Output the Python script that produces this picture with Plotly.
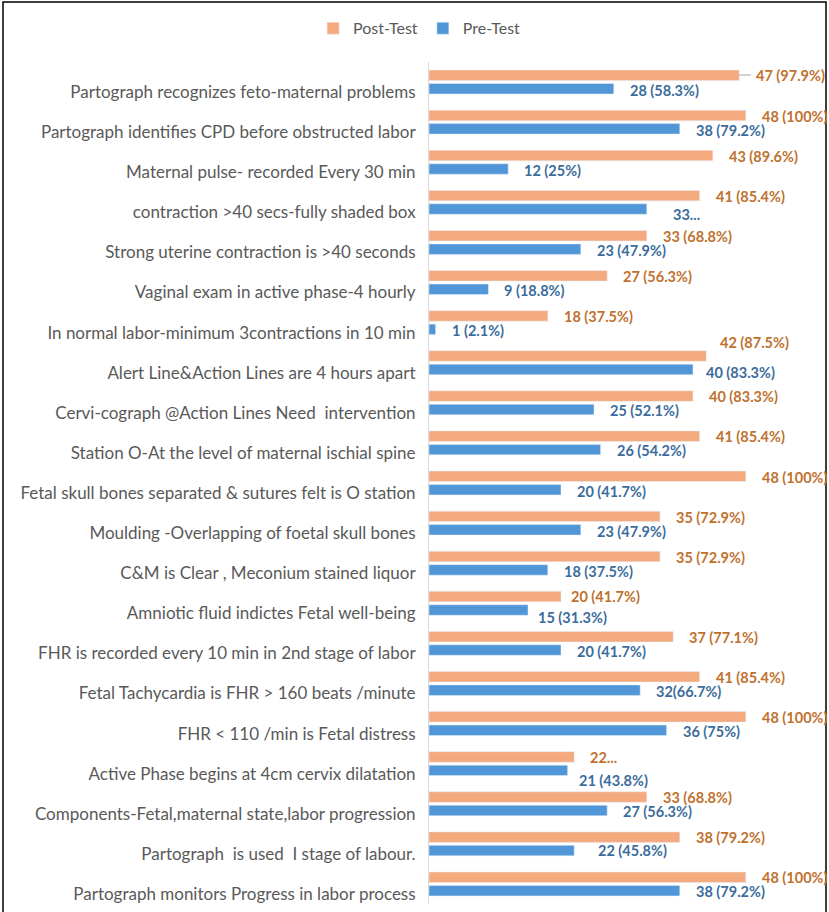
import plotly.graph_objects as go

categories = [
    "Partograph recognizes feto-maternal problems",
    "Partograph identifies CPD before obstructed labor",
    "Maternal pulse- recorded Every 30 min",
    "contraction >40 secs-fully shaded box",
    "Strong uterine contraction is >40 seconds",
    "Vaginal exam in active phase-4 hourly",
    "In normal labor-minimum 3contractions in 10 min",
    "Alert Line&Action Lines are 4 hours apart",
    "Cervi-cograph @Action Lines Need  intervention",
    "Station O-At the level of maternal ischial spine",
    "Fetal skull bones separated & sutures felt is O station",
    "Moulding -Overlapping of foetal skull bones",
    "C&M is Clear , Meconium stained liquor",
    "Amniotic fluid indictes Fetal well-being",
    "FHR is recorded every 10 min in 2nd stage of labor",
    "Fetal Tachycardia is FHR > 160 beats /minute",
    "FHR < 110 /min is Fetal distress",
    "Active Phase begins at 4cm cervix dilatation",
    "Components-Fetal,maternal state,labor progression",
    "Partograph  is used  I stage of labour.",
    "Partograph monitors Progress in labor process",
]

post_values = [47, 48, 43, 41, 33, 27, 18, 42, 40, 41, 48, 35, 35, 20, 37, 41, 48, 22, 33, 38, 48]
pre_values = [28, 38, 12, 33, 23, 9, 1, 40, 25, 26, 20, 23, 18, 15, 20, 32, 36, 21, 27, 22, 38]

post_labels = ["47 (97.9%)", "48 (100%)", "43 (89.6%)", "41 (85.4%)", "33 (68.8%)", "27 (56.3%)",
               "18 (37.5%)", "42 (87.5%)", "40 (83.3%)", "41 (85.4%)", "48 (100%)", "35 (72.9%)",
               "35 (72.9%)", "20 (41.7%)", "37 (77.1%)", "41 (85.4%)", "48 (100%)", "22...",
               "33 (68.8%)", "38 (79.2%)", "48 (100%)"]
pre_labels = ["28 (58.3%)", "38 (79.2%)", "12 (25%)", "33...", "23 (47.9%)", "9 (18.8%)",
              "1 (2.1%)", "40 (83.3%)", "25 (52.1%)", "26 (54.2%)", "20 (41.7%)", "23 (47.9%)",
              "18 (37.5%)", "15 (31.3%)", "20 (41.7%)", "32(66.7%)", "36 (75%)", "21 (43.8%)",
              "27 (56.3%)", "22 (45.8%)", "38 (79.2%)"]

POST_COLOR = "#F4AA7E"
PRE_COLOR = "#5197D8"
POST_TEXT = "#C0712E"
PRE_TEXT = "#3B6C9C"
GRAY = "#595959"

fig = go.Figure()
fig.add_trace(go.Bar(name="Post-Test", y=categories, x=post_values, orientation="h",
                     marker_color=POST_COLOR, hoverinfo="skip"))
fig.add_trace(go.Bar(name="Pre-Test", y=categories, x=pre_values, orientation="h",
                     marker_color=PRE_COLOR, hoverinfo="skip"))

# label nudges (pixels) for the few labels that were moved in the original
post_nudge = {0: (15, 0), 7: (12, 13), 13: (8, 0)}
pre_nudge = {3: (24, -5), 7: (11, -3), 13: (8, -7), 17: (9, -10), 19: (22, 0)}

annotations = []
BAR_OFF = 7
for i, c in enumerate(categories):
    dx, dy = post_nudge.get(i, (14, -1))
    annotations.append(dict(x=post_values[i], y=c, xref="x", yref="y", text=post_labels[i],
                            showarrow=False, xanchor="left", yanchor="middle",
                            xshift=dx, yshift=BAR_OFF + dy,
                            font=dict(family="Lato", size=14.5, color=POST_TEXT, weight="bold")))
    dx, dy = pre_nudge.get(i, (14, -1))
    annotations.append(dict(x=pre_values[i], y=c, xref="x", yref="y", text=pre_labels[i],
                            showarrow=False, xanchor="left", yanchor="middle",
                            xshift=dx, yshift=-BAR_OFF + dy,
                            font=dict(family="Lato", size=14.5, color=PRE_TEXT, weight="bold")))

# leader line for first post-test label
annotations.append(dict(x=post_values[0], y=categories[0], xref="x", yref="y", text="",
                        showarrow=True, arrowhead=0, arrowwidth=1, arrowcolor="#A6A6A6",
                        ax=13, ay=0, yshift=BAR_OFF, standoff=0, startstandoff=0))

fig.update_layout(
    width=829, height=912,
    margin=dict(l=429, r=4, t=62, b=8),
    paper_bgcolor="white", plot_bgcolor="white",
    barmode="group", bargap=0.33, bargroupgap=0.22,
    showlegend=True,
    legend=dict(orientation="h", x=-0.025, xanchor="center", y=1.04, yanchor="middle",
                font=dict(family="Lato", size=16, color=GRAY), itemwidth=30,
                traceorder="normal"),
    annotations=annotations,
    xaxis=dict(range=[0, 60], visible=False, fixedrange=True),
    yaxis=dict(autorange="reversed", showline=True, linecolor="#D9D9D9", linewidth=1,
               showgrid=False, ticks="", ticklabelstandoff=9, ticklabelshift=-10,
               tickfont=dict(family="Lato", size=17, color=GRAY)),
    shapes=[dict(type="rect", xref="paper", yref="paper",
                 x0=(3 - 429) / 396, x1=(826 - 429) / 396,
                 y0=-0.1, y1=(904 - 2) / 842,
                 line=dict(color="black", width=1.5), fillcolor="rgba(0,0,0,0)")],
)

fig.write_html("out.html")
